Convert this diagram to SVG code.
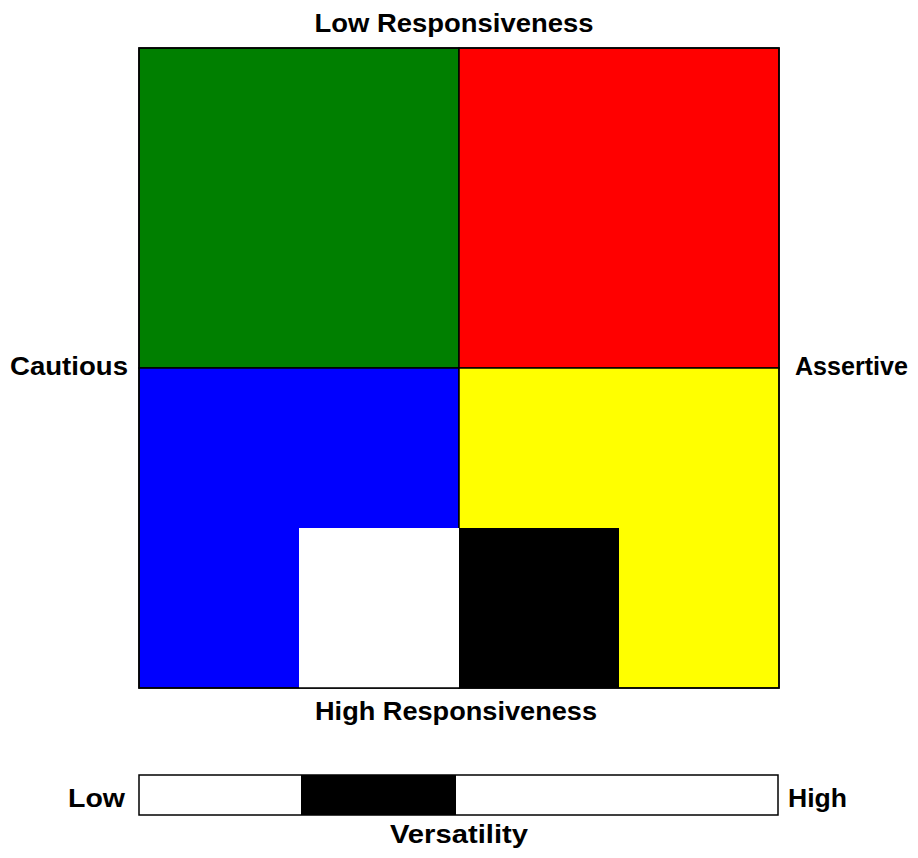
<svg xmlns="http://www.w3.org/2000/svg" width="918" height="858" viewBox="0 0 918 858">
<style>
.t{font-family:"Liberation Sans",Arial,sans-serif;font-weight:bold;font-size:26px;fill:#000}
.q{stroke:#000;stroke-width:1.5}
</style>
<rect width="918" height="858" fill="#fff"/>
<g id="grid">
<rect id="green" class="q" x="139" y="48" width="320" height="320" fill="#007f00"/>
<rect id="red" class="q" x="459" y="48" width="320" height="320" fill="#ff0000"/>
<rect id="blue" class="q" x="139" y="368" width="320" height="320" fill="#0000ff"/>
<rect id="yellow" class="q" x="459" y="368" width="320" height="320" fill="#ffff00"/>
<rect id="white" x="299" y="528" width="160" height="160" fill="#fff"/>
<rect id="black" x="459" y="528" width="160" height="160" fill="#000"/>
<rect x="139" y="48" width="640" height="640" fill="none" stroke="#000" stroke-width="1.5"/>
</g>
<g id="labels">
<text class="t" x="454" y="32" text-anchor="middle" textLength="279" lengthAdjust="spacingAndGlyphs">Low Responsiveness</text>
<text class="t" x="10" y="375" textLength="118" lengthAdjust="spacingAndGlyphs">Cautious</text>
<text class="t" x="795" y="375" textLength="113" lengthAdjust="spacingAndGlyphs">Assertive</text>
<text class="t" x="456" y="720" text-anchor="middle" textLength="282" lengthAdjust="spacingAndGlyphs">High Responsiveness</text>
</g>
<g id="versatility">
<rect x="139" y="775" width="639" height="40" fill="#fff" stroke="#000" stroke-width="1.5"/>
<rect x="301" y="775" width="155" height="40" fill="#000"/>
<text class="t" x="68" y="807" textLength="57" lengthAdjust="spacingAndGlyphs">Low</text>
<text class="t" x="788" y="807" textLength="59" lengthAdjust="spacingAndGlyphs">High</text>
<text class="t" x="459" y="843" text-anchor="middle" textLength="138" lengthAdjust="spacingAndGlyphs">Versatility</text>
</g>
</svg>
